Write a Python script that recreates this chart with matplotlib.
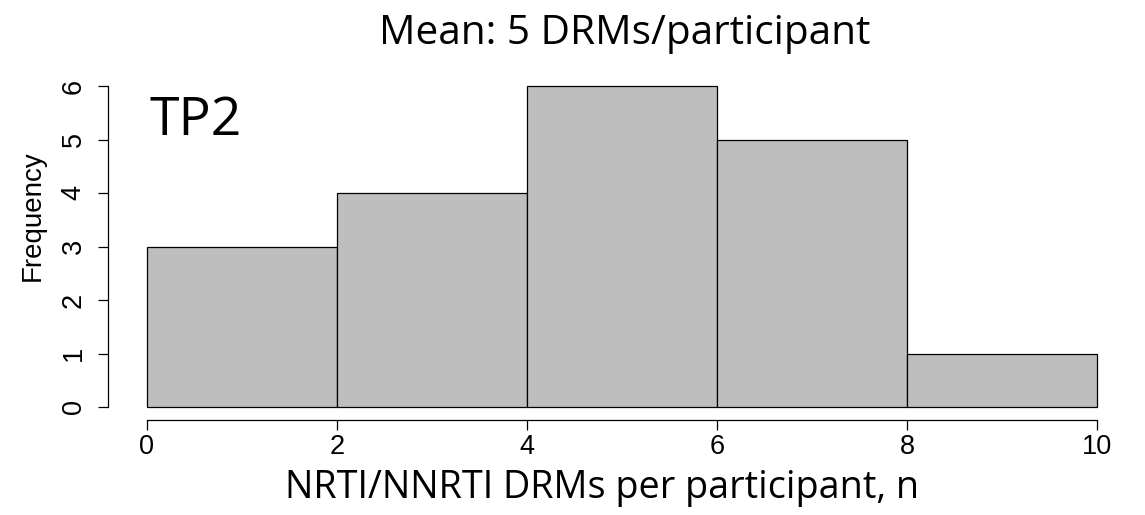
import numpy as np
import matplotlib
matplotlib.use('Agg')
import matplotlib.pyplot as plt

# histogram bins and counts
bin_edges = [0, 2, 4, 6, 8, 10]
counts = [3, 4, 6, 5, 1]
x_ticks = [0, 2, 4, 6, 8, 10]
y_ticks = [0, 1, 2, 3, 4, 5, 6]

W, H = 1145, 515
fig = plt.figure(figsize=(W / 100, H / 100), dpi=100)
# axes box spans exactly the data range (0..10, 0..6), like base R hist()
ax = fig.add_axes([147 / W, (H - 407) / H, (1097 - 147) / W, (407 - 86) / H])

ax.bar(bin_edges[:-1], counts, width=np.diff(bin_edges), align='edge',
       color='#bebebe', edgecolor='black', linewidth=0.9, clip_on=False)

ax.set_xlim(0, 10)
ax.set_ylim(0, 6)
for s in ['top', 'right']:
    ax.spines[s].set_visible(False)
ax.spines['left'].set_position(('outward', 28.3))
ax.spines['bottom'].set_position(('outward', 9.4))
ax.spines['left'].set_bounds(0, 6)
ax.spines['bottom'].set_bounds(0, 10)
ax.spines['left'].set_linewidth(0.9)
ax.spines['bottom'].set_linewidth(0.9)

ax.set_xticks(x_ticks)
ax.set_yticks(y_ticks)
ax.tick_params(axis='both', length=7, width=0.9, labelsize=19.5)
ax.tick_params(axis='x', pad=3)
ax.tick_params(axis='y', pad=8)
for lab in ax.get_yticklabels():
    lab.set_rotation(90)
    lab.set_va('center')
for lab in ax.get_xticklabels() + ax.get_yticklabels():
    lab.set_family('Liberation Sans')

fig.text(33 / W, 1 - 216 / H, 'Frequency', rotation=90, ha='center', va='center',
         fontsize=20, family='Liberation Sans')
fig.text(602 / W, 1 - 488 / H, 'NRTI/NNRTI DRMs per participant, n', ha='center', va='center',
         fontsize=27.2, family='Open Sans')
fig.text(625 / W, 1 - 34 / H, 'Mean: 5 DRMs/participant', ha='center', va='center',
         fontsize=29.2, family='Open Sans')
ax.text(0.03, 5.35, 'TP2', ha='left', va='center', fontsize=38.5, family='Open Sans')

fig.savefig('out.png', dpi=100)
